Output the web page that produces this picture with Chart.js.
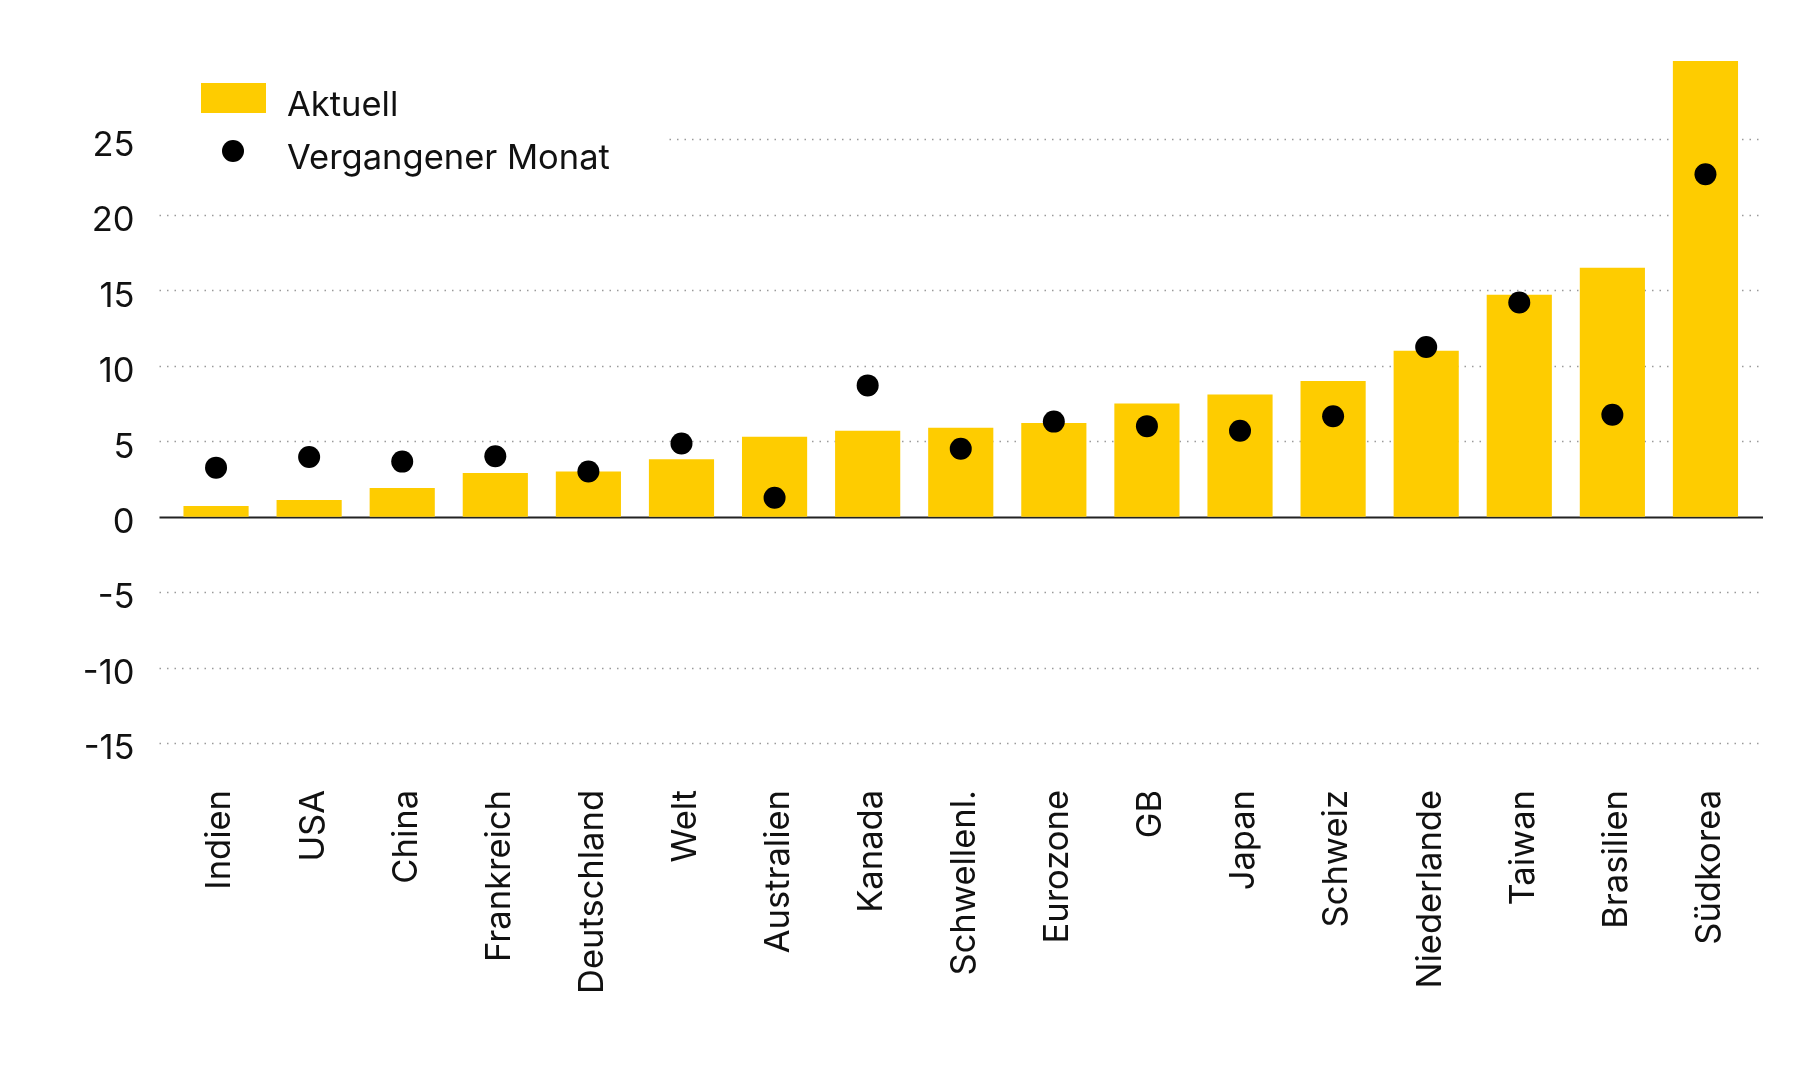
<!DOCTYPE html>
<html>
<head>
<meta charset="utf-8">
<script src="https://cdn.jsdelivr.net/npm/chart.js@4"></script>
<style>
  html, body { margin: 0; padding: 0; background: #ffffff; }
  #wrap { width: 1800px; height: 1080px; }
</style>
</head>
<body>
<div id="wrap"><canvas id="c" width="1800" height="1080"></canvas></div>
<script>
const categories = ["Indien", "USA", "China", "Frankreich", "Deutschland", "Welt", "Australien", "Kanada", "Schwellenl.", "Eurozone", "GB", "Japan", "Schweiz", "Niederlande", "Taiwan", "Brasilien", "Südkorea"];
const aktuell = [0.7, 1.1, 1.9, 2.9, 3.0, 3.8, 5.3, 5.7, 5.9, 6.2, 7.5, 8.1, 9.0, 11.0, 14.7, 16.5, 30.2];
const vergangenerMonat = [3.25, 3.95, 3.65, 4.0, 3.0, 4.85, 1.25, 8.7, 4.5, 6.3, 6.0, 5.7, 6.65, 11.25, 14.2, 6.75, 22.7];
const yTicks = [-15, -10, -5, 0, 5, 10, 15, 20, 25];
const seriesLabels = ["Aktuell", "Vergangener Monat"];

const FONT = "Inter, 'DejaVu Sans', sans-serif";
const YELLOW = "#FECC00";

const gridPlugin = {
  id: 'customGrid',
  beforeDatasetsDraw(chart) {
    const { ctx, chartArea, scales } = chart;
    const y = scales.y;
    ctx.save();
    y.ticks.forEach(t => {
      const py = Math.round(y.getPixelForValue(t.value)) + 0.5;
      ctx.beginPath();
      if (t.value === 0) {
        ctx.setLineDash([]);
        ctx.strokeStyle = '#222222';
        ctx.lineWidth = 2;
        ctx.moveTo(chartArea.left - 10, py);
        ctx.lineTo(chartArea.right + 11, py);
      } else {
        ctx.setLineDash([1.5, 6]);
        ctx.strokeStyle = '#9a9a9a';
        ctx.lineWidth = 1.5;
        ctx.moveTo(chartArea.left - 10, py);
        ctx.lineTo(chartArea.right + 8, py);
      }
      ctx.stroke();
    });
    ctx.restore();
  }
};

const legendPlugin = {
  id: 'insideLegend',
  beforeDatasetsDraw(chart) {
    const { ctx } = chart;
    const ds = chart.data.datasets;
    ctx.save();
    ctx.fillStyle = '#ffffff';
    ctx.fillRect(150, 75, 516, 100);
    ctx.fillStyle = ds[0].backgroundColor;
    ctx.fillRect(201, 83, 65, 30);
    ctx.fillStyle = ds[1].pointBackgroundColor;
    ctx.beginPath();
    ctx.arc(233, 151, 11, 0, Math.PI * 2);
    ctx.fill();
    ctx.fillStyle = '#111111';
    ctx.font = "34.5px " + FONT;
    ctx.textBaseline = 'middle';
    ctx.textAlign = 'left';
    ctx.fillText(ds[0].label, 287, 105.5);
    ctx.fillText(ds[1].label, 287, 158.5);
    ctx.restore();
  }
};

new Chart(document.getElementById('c'), {
  data: {
    labels: categories,
    datasets: [
      {
        type: 'bar',
        label: seriesLabels[0],
        data: aktuell,
        backgroundColor: YELLOW,
        borderWidth: 0,
        categoryPercentage: 1.0,
        barPercentage: 0.7,
        order: 2
      },
      {
        type: 'line',
        label: seriesLabels[1],
        data: vergangenerMonat,
        showLine: false,
        pointRadius: 11,
        pointHoverRadius: 11,
        pointBackgroundColor: '#000000',
        pointBorderWidth: 0,
        borderColor: '#000000',
        order: 1
      }
    ]
  },
  options: {
    responsive: false,
    animation: false,
    devicePixelRatio: 1,
    layout: { padding: { left: 0, right: 48, top: 61, bottom: 0 } },
    plugins: {
      legend: { display: false },
      tooltip: { enabled: false }
    },
    scales: {
      x: {
        grid: { display: false, drawTicks: false },
        border: { display: false },
        ticks: {
          color: '#111111',
          font: { family: FONT, size: 34.5 },
          minRotation: 90,
          maxRotation: 90,
          padding: 47,
          labelOffset: 4,
          autoSkip: false
        },
        afterFit(axis) { axis.height = 1080 - 743; }
      },
      y: {
        min: -15,
        max: 30.2,
        afterBuildTicks(axis) { axis.ticks = yTicks.map(v => ({ value: v })); },
        grid: { display: false, drawTicks: false },
        border: { display: false },
        ticks: {
          color: '#111111',
          font: { family: FONT, size: 34.5 },
          padding: 35,
          labelOffset: 6
        },
        afterFit(axis) { axis.width = 169.5; }
      }
    }
  },
  plugins: [gridPlugin, legendPlugin]
});
</script>
</body>
</html>
